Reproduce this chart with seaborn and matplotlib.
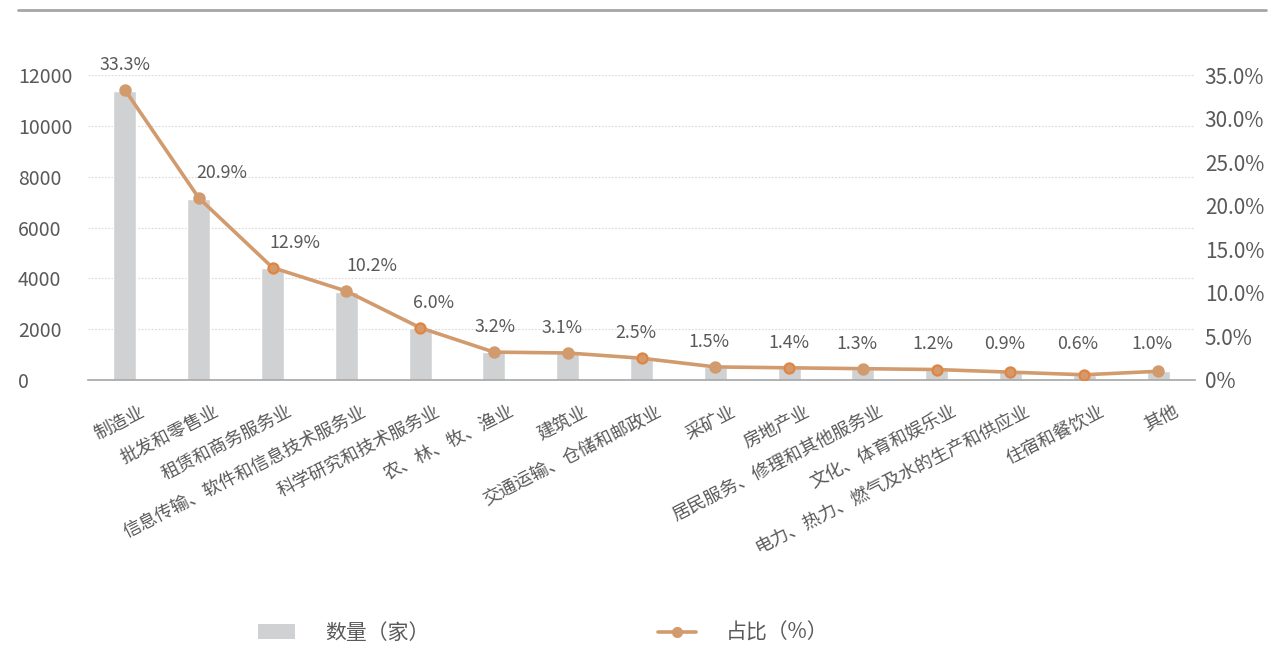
import matplotlib
matplotlib.use("Agg")
import matplotlib.pyplot as plt
import matplotlib.transforms as mtransforms
from matplotlib.lines import Line2D
from matplotlib.patches import Patch
from matplotlib.ticker import FixedLocator, FuncFormatter
import pandas as pd
import seaborn as sns

# ---- data -------------------------------------------------------------
industries = [
    "制造业", "批发和零售业", "租赁和商务服务业", "信息传输、软件和信息技术服务业",
    "科学研究和技术服务业", "农、林、牧、渔业", "建筑业", "交通运输、仓储和邮政业",
    "采矿业", "房地产业", "居民服务、修理和其他服务业", "文化、体育和娱乐业",
    "电力、热力、燃气及水的生产和供应业", "住宿和餐饮业", "其他",
]
counts = [11370, 7130, 4400, 3480, 2050, 1090, 1060, 850, 510, 480, 440, 410, 310, 200, 340]
shares = [33.3, 20.9, 12.9, 10.2, 6.0, 3.2, 3.1, 2.5, 1.5, 1.4, 1.3, 1.2, 0.9, 0.6, 1.0]
count_ticks = [0, 2000, 4000, 6000, 8000, 10000, 12000]
share_ticks = [0, 5, 10, 15, 20, 25, 30, 35]

# ---- style ------------------------------------------------------------
BAR = "#D0D1D3"
LINE = "#D29B6E"
EDGE = "#E8803A"
TEXT = "#595959"
GRID = "#D9D9D9"
AXIS = "#A6A6A6"

sns.set_theme(style="white")
plt.rcParams["font.family"] = ["Noto Sans CJK SC", "DejaVu Sans"]
plt.rcParams["font.weight"] = "light"

df = pd.DataFrame({"行业": industries, "数量": counts, "占比": shares})

W, H = 1268, 670
fig = plt.figure(figsize=(W / 100, H / 100), dpi=100)
ax = fig.add_axes([88 / W, 1 - 380 / H, (1195 - 88) / W, (380 - 75) / H])

# bars: counts
sns.barplot(data=df, x="行业", y="数量", color=BAR, saturation=1, width=0.31,
            ax=ax, zorder=2)
ax.set_ylim(0, 12000)
ax.set_xlim(-0.5, len(industries) - 0.5)
ax.set_axisbelow(True)
ax.yaxis.set_major_locator(FixedLocator(count_ticks))
ax.yaxis.grid(True, color=GRID, linestyle=(0, (1.5, 1.5)), linewidth=0.8)
ax.xaxis.grid(False)
for side in ("top", "left", "right"):
    ax.spines[side].set_visible(False)
ax.spines["bottom"].set_color(AXIS)
ax.spines["bottom"].set_linewidth(1.2)
ax.set_xlabel("")
ax.set_ylabel("")

ax.tick_params(axis="y", length=0, pad=50.4, labelsize=14, labelcolor=TEXT)
for lbl in ax.get_yticklabels():
    lbl.set_horizontalalignment("left")

ax.tick_params(axis="x", length=0, pad=22, labelsize=13, labelcolor=TEXT)
shift = mtransforms.ScaledTranslation(19 / 100, 0, fig.dpi_scale_trans)
for lbl in ax.get_xticklabels():
    lbl.set_rotation(27)
    lbl.set_horizontalalignment("right")
    lbl.set_verticalalignment("center")
    lbl.set_rotation_mode("anchor")
    lbl.set_transform(lbl.get_transform() + shift)

# line: shares
ax2 = ax.twinx()
sns.pointplot(data=df, x="行业", y="占比", color=LINE, markers="o",
              markersize=7, linewidth=2.6, errorbar=None, ax=ax2)
ax2.set_ylim(0, 35)
ax2.set_xlim(-0.5, len(industries) - 0.5)
ax2.yaxis.set_major_locator(FixedLocator(share_ticks))
ax2.yaxis.set_major_formatter(FuncFormatter(lambda v, _: "0%" if v == 0 else f"{v:.1f}%"))
ax2.tick_params(axis="y", length=0, pad=7, labelsize=15, labelcolor=TEXT)
ax2.set_ylabel("")
ax2.set_xlabel("")
for side in ax2.spines:
    ax2.spines[side].set_visible(False)

# some markers carry an orange rim
rimmed = [2, 4, 7, 9, 11, 12, 13]
ax2.scatter(rimmed, [shares[i] for i in rimmed], s=48, color=LINE,
            edgecolors=EDGE, linewidths=1.2, zorder=5)

# value labels above the points
label_dx = [0, 23, 22, 26, 13, 1, -6, -6, -6, 0, -6, -4, -6, -7, -6]
for i, v in enumerate(shares):
    ax2.annotate(f"{v:.1f}%", xy=(i, max(v, 1.26)),
                 xytext=(label_dx[i] * 0.72, 18), textcoords="offset points",
                 ha="center", va="center", fontsize=12.8, color=TEXT)

# rule across the top of the figure
fig.add_artist(Line2D([18 / W, 1266 / W], [1 - 10 / H, 1 - 10 / H],
                      color=AXIS, linewidth=2, transform=fig.transFigure))

# legend
handles = [
    Patch(facecolor=BAR, edgecolor="none", label="数量（家）"),
    Line2D([], [], color=LINE, linewidth=2.6, marker="o", markersize=7, label="占比（%）"),
]
fig.legend(handles=handles, loc="center", bbox_to_anchor=(543 / W, 1 - 633 / H),
           ncol=2, frameon=False, fontsize=15, labelcolor=TEXT,
           handlelength=1.78, handletextpad=1.44, columnspacing=11.0)

fig.savefig("out.png", dpi=100, facecolor="white")
